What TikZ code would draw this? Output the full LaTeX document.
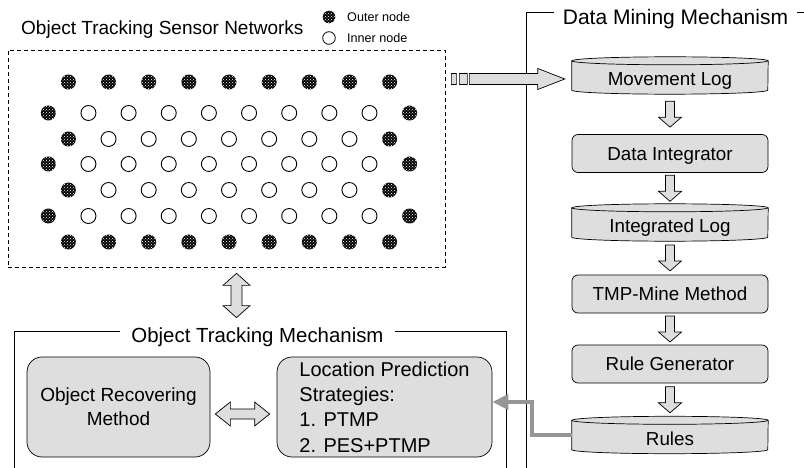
\documentclass[tikz,border=0pt]{standalone}
\usepackage{fontspec}
\setmainfont{Liberation Sans}
\usetikzlibrary{calc,patterns,arrows.meta,backgrounds}
\definecolor{boxgray}{RGB}{222,222,222}
\definecolor{conngray}{RGB}{150,150,150}
\tikzset{
  ttl/.style={font=\fontsize{20.4}{24}\selectfont, inner ysep=0pt, inner xsep=11pt},
  rbox/.style={draw, fill=boxgray, rounded corners=6pt, minimum width=196pt, minimum height=38pt,
    font=\fontsize{18.8}{22}\selectfont, text height=13.5pt, text depth=0pt, inner sep=0pt, line width=0.7pt},
  cyl/.style={minimum width=196pt, minimum height=37pt, font=\fontsize{18.8}{22}\selectfont,
    text height=20.5pt, text depth=0pt, inner sep=0pt},
  lbox/.style={draw, fill=boxgray, rounded corners=15pt, minimum height=100pt,
    line width=0.7pt, inner sep=0pt},
  outer/.style={circle, inner sep=0pt, minimum size=15pt, fill=black,
    postaction={pattern=crosshatch dots, pattern color=white}},
  innr/.style={circle, inner sep=0pt, minimum size=15pt, draw, line width=0.9pt},
  blk/.style={draw, fill=boxgray, line width=0.7pt},
  conn/.style={draw=conngray, line width=4pt, -{Triangle[length=16pt,width=15pt]}},
  frame/.style={line width=0.7pt},
}
\newcommand\cylshape[1]{%
  \filldraw[blk] ([yshift=-4pt]#1.north west) -- ([yshift=4pt]#1.south west)
    arc[start angle=180,end angle=360,x radius=98pt,y radius=4pt]
    -- ([yshift=-4pt]#1.north east)
    arc[start angle=0,end angle=180,x radius=98pt,y radius=4pt] -- cycle;
  \draw[line width=0.7pt] ([yshift=-4pt]#1.north west)
    arc[start angle=180,end angle=360,x radius=98pt,y radius=4pt];}
\newcommand\dnarr[2]{%
  \path[blk] let \p1=($(#1)!0.5!(#2)$) in
    (\x1-4.5pt,\y1+13pt) -- (\x1+4.5pt,\y1+13pt) -- (\x1+4.5pt,\y1-3pt) -- (\x1+11.5pt,\y1-3pt)
    -- (\x1,\y1-13pt) -- (\x1-11.5pt,\y1-3pt) -- (\x1-4.5pt,\y1-3pt) -- cycle;}
\begin{document}
\begin{tikzpicture}[x=1pt,y=-1pt]
\useasboundingbox (0,0) rectangle (804,468);

% ---------- sensor network ----------
\node[font=\fontsize{19}{23}\selectfont, anchor=base west, inner sep=0pt] (snt) at (21,35) {Object Tracking Sensor Networks};
\node[outer, minimum size=12.6pt] (lgo) at (329,17) {};
\node[innr, minimum size=12.6pt, line width=0.8pt] (lgi) at (329,38) {};
\node[font=\fontsize{12.6}{15}\selectfont, anchor=west, inner sep=0pt] (lgot) at (347,17) {Outer node};
\node[font=\fontsize{12.6}{15}\selectfont, anchor=west, inner sep=0pt] (lgit) at (347,38) {Inner node};

\node[draw, dash pattern=on 4pt off 3pt, line width=0.7pt, minimum width=437pt, minimum height=217pt, inner sep=0pt] (net) at (226.5,158.5) {};

\foreach \k in {0,...,8} {
  \node[outer] (r1-\k) at (68.4+40.15*\k,82) {};
  \node[outer] (r7-\k) at (68.4+40.15*\k,242) {};
}
\foreach \r/\y in {2/113,4/164,6/216} {
  \node[outer] (r\r-0) at (48.3,\y) {};
  \node[outer] (r\r-9) at (409.6,\y) {};
  \foreach \k in {1,...,8} \node[innr] (r\r-\k) at (48.3+40.15*\k,\y) {};
}
\foreach \r/\y in {3/139,5/190} {
  \node[outer] (r\r-0) at (68.4,\y) {};
  \node[outer] (r\r-8) at (389.6,\y) {};
  \foreach \k in {1,...,7} \node[innr] (r\r-\k) at (68.4+40.15*\k,\y) {};
}

% ---------- data mining mechanism ----------
\node[ttl, font=\fontsize{21}{25}\selectfont, inner xsep=9pt, anchor=base] (dmt) at (675.5,25) {Data Mining Mechanism};
\coordinate (dmline) at (0,12);
\draw[frame] (dmt.west |- dmline) -- (526,12) -- (526,470);
\draw[frame] (dmt.east |- dmline) -- (806,12);

\node[cyl] (ml) at (670,75.5) {Movement Log};
\node[rbox] (di) at (670,153.5) {Data Integrator};
\node[cyl] (il) at (670,222.5) {Integrated Log};
\node[rbox] (tmp) at (670,294) {TMP-Mine Method};
\node[rbox] (rg) at (670,364) {Rule Generator};
\node[cyl] (rules) at (670,435) {Rules};
\begin{scope}[on background layer]
  \cylshape{ml}
  \cylshape{il}
  \cylshape{rules}
\end{scope}

\dnarr{ml.south}{di.north}
\dnarr{di.south}{il.north}
\dnarr{il.south}{tmp.north}
\dnarr{tmp.south}{rg.north}
\dnarr{rg.south}{rules.north}

% big arrow network -> movement log
\path[blk] let \p1=(net.east), \p2=(ml.west) in
  (\x1+6pt,\y2-9pt) rectangle (\x1+11pt,\y2+2pt)
  (\x1+14pt,\y2-9pt) rectangle (\x1+22pt,\y2+2pt)
  (\x1+24pt,\y2-9pt) -- (\x1+24pt,\y2+2pt) -- (\x2-34pt,\y2+2pt) -- (\x2-34pt,\y2+7pt)
  -- (\x2-7pt,\y2-3.5pt) -- (\x2-34pt,\y2-14pt) -- (\x2-34pt,\y2-9pt) -- cycle;

% ---------- object tracking mechanism ----------
\node[ttl, anchor=base] (otm) at (257.5,342) {Object Tracking Mechanism};
\coordinate (otmline) at (0,331);
\draw[frame] (otm.west |- otmline) -- (14,331) -- (14,470);
\draw[frame] (otm.east |- otmline) -- (506,331) -- (506,470);

\node[lbox, minimum width=183pt, align=center, font=\fontsize{19}{24}\selectfont] (orm) at (118.5,407) {Object Recovering\\Method};
\node[lbox, minimum width=215pt, align=left, font=\fontsize{20}{25.3}\selectfont] (loc) at (384.5,407) {Location Prediction\\Strategies:\\1. PTMP\\2. PES+PTMP};

% double arrow network <-> tracking mechanism
\path[blk] let \p1=($(net.south)+(10,6)$), \p2=(otm.north) in
  (\x1,\y1) -- (\x1+13.5pt,\y1-12pt) -- (\x1+5.5pt,\y1-12pt) -- (\x1+5.5pt,\y2+21.4pt)
  -- (\x1+13.5pt,\y2+21.4pt) -- (\x1,\y2+9.4pt) -- (\x1-13.5pt,\y2+21.4pt) -- (\x1-5.5pt,\y2+21.4pt)
  -- (\x1-5.5pt,\y1-12pt) -- (\x1-13.5pt,\y1-12pt) -- cycle;

% double arrow recovering <-> prediction
\path[blk] let \p1=($(orm.east)+(5,7)$), \p2=($(loc.west)+(-7,7)$) in
  (\x1,\y1) -- (\x1+15pt,\y1+12pt) -- (\x1+15pt,\y1+5pt) -- (\x2-15pt,\y1+5pt) -- (\x2-15pt,\y1+12pt)
  -- (\x2,\y1) -- (\x2-15pt,\y1-12pt) -- (\x2-15pt,\y1-5pt) -- (\x1+15pt,\y1-5pt) -- (\x1+15pt,\y1-12pt) -- cycle;

% rules -> prediction
\draw[conn] (rules.west) -- ++(-40,0) |- ($(loc.east)+(0,-5)$);
\end{tikzpicture}
\end{document}
